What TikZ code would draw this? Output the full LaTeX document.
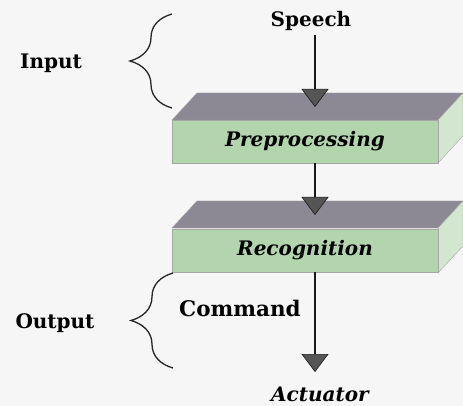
\documentclass[tikz,border=0pt]{standalone}
\usepackage{fontspec}
\setmainfont{DejaVu Serif}
\usetikzlibrary{arrows.meta,decorations.pathreplacing}
\definecolor{topgray}{HTML}{8C8894}
\definecolor{frontgreen}{HTML}{B2D5AE}
\definecolor{sidegreen}{HTML}{D3E6D0}
\definecolor{headgray}{HTML}{555555}
\definecolor{paper}{HTML}{F6F6F6}
\begin{document}
\begin{tikzpicture}[x=1pt,y=-1pt,
  lab/.style={font=\fontsize{20}{22}\selectfont\bfseries, inner sep=0pt},
  ilab/.style={font=\fontsize{20}{22}\selectfont\bfseries\itshape, inner sep=0pt},
  flow/.style={line width=2.6pt, draw=black!90, -{Triangle[width=27pt,length=18pt,line width=0.6pt,fill=headgray]}},
  bracestyle/.style={decorate, decoration={brace,amplitude=42pt}, line width=1.3pt, draw=black!85},
  facestyle/.style={draw=black!35, line width=0.4pt},
  frontface/.style={facestyle, fill=frontgreen, minimum width=266pt, minimum height=43pt, inner sep=0pt,
    font=\fontsize{20}{22}\selectfont\bfseries\itshape}]
\fill[paper] (0,0) rectangle (463,406);
\useasboundingbox (0,0) rectangle (463,406);
% box 1
\fill[facestyle, fill=topgray] (172,120) -- (438,120) -- (463,93) -- (197,93) -- cycle;
\fill[facestyle, fill=sidegreen] (438,120) -- (463,93) -- (463,136) -- (438,163) -- cycle;
\node[frontface] (pre) at (305,141.5) {Preprocessing};
% box 2
\fill[facestyle, fill=topgray] (172,228) -- (438,228) -- (463,201) -- (197,201) -- cycle;
\fill[facestyle, fill=sidegreen] (438,228) -- (463,201) -- (463,246) -- (438,273) -- cycle;
\node[frontface] (rec) at (305,250.5) {Recognition};
% labels
\node[lab] (speech) at (311,21) {Speech};
\node[lab] (input) at (51,63) {Input};
\node[lab] (output) at (55,323) {Output};
\node[lab, font=\fontsize{21.5}{23}\selectfont\bfseries] (command) at (240,308) {Command};
\node[ilab] (actuator) at (320,394) {Actuator};
% arrow tips
\coordinate (tip1) at (315,107);
\coordinate (tip2) at (315,215);
\coordinate (tip3) at (315,372);
\draw[flow] ([yshift=-4pt]tip1 |- speech.south) -- (tip1);
\draw[flow] (tip2 |- pre.south) -- (tip2);
\draw[flow] (tip3 |- rec.south) -- (tip3);
% braces
\coordinate (b1a) at (172,108);
\coordinate (b1b) at (172,14);
\coordinate (b2a) at (173,368);
\coordinate (b2b) at (173,273);
\draw[bracestyle] (b1a) -- (b1b);
\draw[bracestyle] (b2a) -- (b2b);
\end{tikzpicture}
\end{document}
